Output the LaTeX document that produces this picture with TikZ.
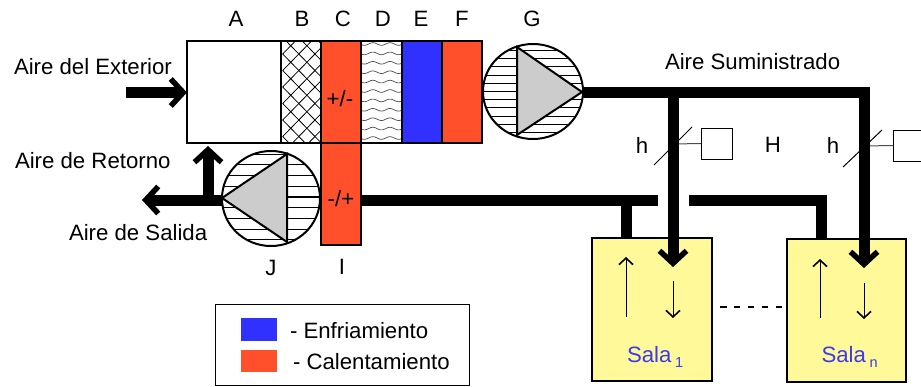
\documentclass[tikz,border=0pt]{standalone}
\usepackage{fontspec}
\setmainfont{Liberation Sans}
\usetikzlibrary{arrows.meta}
\definecolor{heatred}{HTML}{FF4F2B}
\definecolor{coolblue}{HTML}{3030FF}
\definecolor{roomyellow}{HTML}{FFF99A}
\definecolor{fangray}{HTML}{CCCCCC}
\definecolor{salablue}{HTML}{3A3AF0}
\tikzset{
  x=1pt,y=-1pt,
  every node/.style={inner sep=0pt,outer sep=0pt,font=\fontsize{22.2}{25}\selectfont},
  cell/.style={draw=black,line width=2pt,anchor=north west,minimum height=102pt,minimum width=40pt},
  roombox/.style={draw=black,line width=2.2pt,fill=roomyellow,anchor=north west,minimum height=143pt,minimum width=120pt},
  duct/.style={line width=11pt},
  ductarrow/.style={duct,-{Straight Barb[length=12.5pt,width=27pt,line width=5.5pt]}},
  roomarrow/.style={line width=1pt,-{Straight Barb[length=6.5pt,width=14pt,line width=1.6pt]}},
  blade/.style={draw=black,line width=2pt,fill=fangray,line join=miter},
  hatchline/.style={line width=1.1pt},
  thinline/.style={line width=1pt},
  gauge/.style={draw=black,line width=1pt,anchor=north west,minimum size=31pt},
}
\begin{document}
\begin{tikzpicture}
\useasboundingbox (0,0) rectangle (921,386);
% ducts behind everything
\coordinate (supplyStart) at (575,92);
\coordinate (supplyA) at (673,92);
\coordinate (supplyB) at (864,92);
\coordinate (retA) at (361,200.5);
\coordinate (retAend) at (658,200.5);
\coordinate (retBstart) at (689,200.5);
\coordinate (retBcorner) at (821.5,200.5);
\coordinate (retTee) at (626,200.5);
\coordinate (tip1) at (673,267);
\coordinate (tip2) at (864,268);

% rooms
\node[roombox] (room1) at (592,238) {};
\node[roombox,minimum width=119pt] (roomn) at (787,239) {};

% dampers
\coordinate (d1a) at (654,165); \coordinate (d1b) at (692,127);
\coordinate (d2a) at (843,167); \coordinate (d2b) at (882,130);
\draw[thinline] (d1a) -- (d1b);
\draw[thinline] (d2a) -- (d2b);
\node[gauge] (g1) at (701,128) {};
\node[gauge] (g2) at (893,130) {};
\coordinate (g1s) at (673,144);
\coordinate (g2s) at (864,146);
\draw[thinline,black!70] (g1s) -- (g1.west);
\draw[thinline,black!70] (g2s) -- (g2.west);

% thick ducts
\draw[duct,line join=miter] (supplyStart) -- (supplyB) -- (864,240);
\draw[duct] (supplyA) -- (673,240);
\draw[duct] (retA) -- (retAend);
\draw[duct,line join=miter] (retBstart) -- (retBcorner) -- (821.5,239);
\draw[duct] (retTee) -- (626,239);
\draw[ductarrow] (673,230) -- (tip1);
\draw[ductarrow] (864,230) -- (tip2);

% AHU
\node[cell,minimum width=94pt,fill=white] (A) at (187,41) {};
\node[cell] (B) at (281,41) {};
\node[cell,fill=heatred] (C) at (321,41) {};
\node[cell,minimum width=41pt] (D) at (361,41) {};
\node[cell,fill=coolblue] (E) at (402,41) {};
\node[cell,fill=heatred] (F) at (442,41) {};
\node[cell,fill=heatred] (I) at (321,143) {};
% crosshatch
\begin{scope}
\clip (B.north west) rectangle (B.south east);
\foreach \k in {-4,...,9} {
  \draw[line width=.8pt] (282.7,{54+\k*16.5}) -- ++(42,43);
  \draw[line width=.8pt] (282.7,{54+\k*16.5}) -- ++(42,-43);
}
\end{scope}
% waves
\begin{scope}
\clip (D.north west) rectangle (D.south east);
\foreach \k in {0,...,10} {
  \draw[line width=.7pt,black!70,domain=361:402,samples=60,smooth] plot (\x,{44+\k*9.4+1.3*sin(\x*21)});
}
\end{scope}
\draw[line width=2pt] (B.north west) rectangle (B.south east);
\draw[line width=2pt] (D.north west) rectangle (D.south east);

% fans
\node[minimum width=100pt,minimum height=95pt] (G) at (533,91.5) {};
\fill[white] (533,91.5) ellipse [x radius=50,y radius=47.5];
\begin{scope}
\clip (533,91.5) ellipse [x radius=50,y radius=47.5];
\foreach \k in {-6,...,6} \draw[hatchline] (480,{91.5+\k*8.2}) -- (590,{91.5+\k*8.2});
\end{scope}
\draw[line width=2pt] (533,91.5) ellipse [x radius=50,y radius=47.5];
\draw[blade] (517,47) -- (582,92) -- (517,135) -- cycle;

\draw[ductarrow] (224,200) -- (142,200);
\draw[ductarrow] (208,198) -- (208,146);

\node[minimum width=98pt,minimum height=95pt] (J) at (271,198.5) {};
\fill[white] (271,198.5) ellipse [x radius=49,y radius=47.5];
\begin{scope}
\clip (271,198.5) ellipse [x radius=49,y radius=47.5];
\foreach \k in {-4,...,4} \draw[hatchline] (215,{197+\k*10.7}) -- (325,{197+\k*10.7});
\end{scope}
\draw[line width=2pt] (271,198.5) ellipse [x radius=49,y radius=47.5];
\draw[blade] (287,154) -- (222,198) -- (287,242) -- cycle;

% inlet arrow
\draw[ductarrow] (126,92.5) -- (187,92.5);

% room arrows
\draw[roomarrow] (626,317) -- (626,257);
\draw[roomarrow] (673,281) -- (673,318);
\draw[roomarrow] (820,318) -- (820,259);
\draw[roomarrow] (864,283) -- (864,319);
\coordinate (dashL) at (720,307); \coordinate (dashR) at (782,307);
\draw[line width=2pt,dash pattern=on 6.5pt off 7.4pt] (dashL) -- (dashR);

% labels
\node (tA) at (236,19) {A};
\node (tB) at (302,19) {B};
\node (tC) at (343,19) {C};
\node (tD) at (383,19) {D};
\node (tE) at (421,19) {E};
\node (tF) at (462,19) {F};
\node (tG) at (532,19) {G};
\node[anchor=west] (tExt) at (14,67) {Aire del Exterior};
\node[anchor=west] (tRet) at (15,161) {Aire de Retorno};
\node[anchor=west] (tSal) at (69,233) {Aire de Salida};
\node[anchor=west] (tSum) at (665,62) {Aire Suministrado};
\node (th1) at (642,145) {h};
\node (tH) at (773,145) {H};
\node (th2) at (833,145) {h};
\node (tJ) at (271,268) {J};
\node (tI) at (342,267) {I};
\node (tpm) at (340,99) {+/-};
\node (tmp) at (341,199) {-/+};
\node[anchor=base west,text=salablue] (s1) at (627,362) {Sala};
\node[anchor=base west,text=salablue,font=\fontsize{14.5}{16}\selectfont] (s1i) at (675,367) {1};
\node[anchor=base west,text=salablue] (sn) at (821.5,362) {Sala};
\node[anchor=base west,text=salablue,font=\fontsize{14.5}{16}\selectfont] (sni) at (869.5,367) {n};

% legend
\node[draw=black,line width=1pt,anchor=north west,minimum width=254pt,minimum height=81pt] (legend) at (215,304) {};
\node[fill=coolblue,anchor=north west,minimum width=36pt,minimum height=23pt] (kc) at (241,318) {};
\node[fill=heatred,anchor=north west,minimum width=36pt,minimum height=22pt] (kh) at (241,350) {};
\node[anchor=west] (lc) at (290,331) {- Enfriamiento};
\node[anchor=west] (lh) at (293,362) {- Calentamiento};
\end{tikzpicture}
\end{document}
